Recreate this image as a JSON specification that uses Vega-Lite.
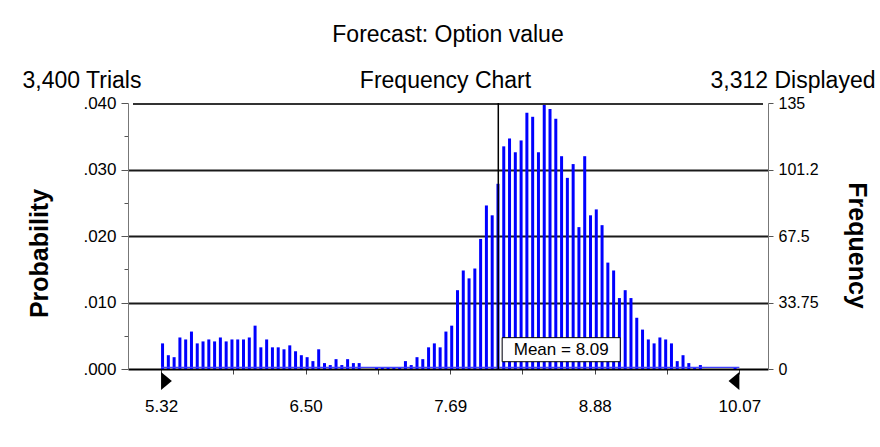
{
  "$schema": "https://vega.github.io/schema/vega-lite/v6.json",
  "width": 640,
  "height": 266,
  "autosize": {"type": "none"},
  "padding": {"left": 128, "top": 103, "right": 112, "bottom": 78},
  "background": "white",
  "config": {
    "font": "Liberation Sans",
    "view": {"stroke": null},
    "axis": {"labelFont": "Liberation Sans", "titleFont": "Liberation Sans", "labelColor": "black", "titleColor": "black"}
  },
  "title": {
    "text": "Forecast: Option value",
    "fontSize": 23,
    "fontWeight": "normal",
    "color": "black",
    "anchor": "middle",
    "frame": "group",
    "offset": 22
  },
  "data": {
    "values": [
      {"bin": 5.32, "count": 13}, {"bin": 5.3675, "count": 7}, {"bin": 5.415, "count": 6}, {"bin": 5.4625, "count": 16},
      {"bin": 5.51, "count": 15}, {"bin": 5.5575, "count": 19}, {"bin": 5.605, "count": 13}, {"bin": 5.6525, "count": 14},
      {"bin": 5.7, "count": 15}, {"bin": 5.7475, "count": 14}, {"bin": 5.795, "count": 16}, {"bin": 5.8425, "count": 14},
      {"bin": 5.89, "count": 15}, {"bin": 5.9375, "count": 15}, {"bin": 5.985, "count": 15}, {"bin": 6.0325, "count": 16},
      {"bin": 6.08, "count": 22}, {"bin": 6.1275, "count": 11}, {"bin": 6.175, "count": 15}, {"bin": 6.2225, "count": 11},
      {"bin": 6.27, "count": 11}, {"bin": 6.3175, "count": 10}, {"bin": 6.365, "count": 12}, {"bin": 6.4125, "count": 9},
      {"bin": 6.46, "count": 7}, {"bin": 6.5075, "count": 6}, {"bin": 6.555, "count": 4}, {"bin": 6.6025, "count": 10},
      {"bin": 6.65, "count": 3}, {"bin": 6.6975, "count": 2}, {"bin": 6.745, "count": 5}, {"bin": 6.7925, "count": 2},
      {"bin": 6.84, "count": 5}, {"bin": 6.8875, "count": 3}, {"bin": 6.935, "count": 3}, {"bin": 6.9825, "count": 0},
      {"bin": 7.03, "count": 0}, {"bin": 7.0775, "count": 1}, {"bin": 7.125, "count": 1}, {"bin": 7.1725, "count": 1},
      {"bin": 7.22, "count": 1}, {"bin": 7.2675, "count": 1}, {"bin": 7.315, "count": 4}, {"bin": 7.3625, "count": 2},
      {"bin": 7.41, "count": 6}, {"bin": 7.4575, "count": 5}, {"bin": 7.505, "count": 11}, {"bin": 7.5525, "count": 13},
      {"bin": 7.6, "count": 11}, {"bin": 7.6475, "count": 19}, {"bin": 7.695, "count": 22}, {"bin": 7.7425, "count": 40},
      {"bin": 7.79, "count": 50}, {"bin": 7.8375, "count": 46}, {"bin": 7.885, "count": 51}, {"bin": 7.9325, "count": 66},
      {"bin": 7.98, "count": 83}, {"bin": 8.0275, "count": 78}, {"bin": 8.075, "count": 94}, {"bin": 8.1225, "count": 113},
      {"bin": 8.17, "count": 117}, {"bin": 8.2175, "count": 110}, {"bin": 8.265, "count": 116}, {"bin": 8.3125, "count": 130},
      {"bin": 8.36, "count": 128}, {"bin": 8.4075, "count": 110}, {"bin": 8.455, "count": 135}, {"bin": 8.5025, "count": 132},
      {"bin": 8.55, "count": 127}, {"bin": 8.5975, "count": 108}, {"bin": 8.645, "count": 97}, {"bin": 8.6925, "count": 104},
      {"bin": 8.74, "count": 72}, {"bin": 8.7875, "count": 108}, {"bin": 8.835, "count": 78}, {"bin": 8.8825, "count": 81},
      {"bin": 8.93, "count": 73}, {"bin": 8.9775, "count": 54}, {"bin": 9.025, "count": 50}, {"bin": 9.0725, "count": 36},
      {"bin": 9.12, "count": 40}, {"bin": 9.1675, "count": 36}, {"bin": 9.215, "count": 26}, {"bin": 9.2625, "count": 20},
      {"bin": 9.31, "count": 15}, {"bin": 9.3575, "count": 13}, {"bin": 9.405, "count": 16}, {"bin": 9.4525, "count": 15},
      {"bin": 9.5, "count": 13}, {"bin": 9.5475, "count": 4}, {"bin": 9.595, "count": 7}, {"bin": 9.6425, "count": 3},
      {"bin": 9.69, "count": 1}, {"bin": 9.7375, "count": 2}, {"bin": 9.785, "count": 0}, {"bin": 9.8325, "count": 0},
      {"bin": 9.88, "count": 0}, {"bin": 9.9275, "count": 0}, {"bin": 9.975, "count": 0}, {"bin": 10.0225, "count": 1}
    ]
  },
  "layer": [
    {
      "mark": {"type": "bar", "width": 3, "xOffset": 1.5, "color": "#0000ff"},
      "encoding": {
        "x": {
          "field": "bin",
          "type": "quantitative",
          "scale": {"domain": [5.0896, 10.2642], "nice": false, "zero": false},
          "axis": {
            "orient": "bottom",
            "values": [5.32, 5.91375, 6.5075, 7.10125, 7.695, 8.28875, 8.8825, 9.47625, 10.07],
            "labelExpr": "indexof([5.32, 6.5075, 7.695, 8.8825, 10.07], datum.value) >= 0 ? format(floor(datum.value * 100 + 0.0001) / 100, '.2f') : ''",
            "labelFontSize": 17,
            "labelPadding": 24,
            "labelFlush": false,
            "labelOverlap": false,
            "tickSize": 5,
            "tickColor": "#444",
            "domainColor": "black",
            "domainWidth": 2,
            "grid": false,
            "title": null
          }
        },
        "y": {
          "field": "count",
          "type": "quantitative",
          "scale": {"domain": [0, 135], "nice": false, "zero": true},
          "axis": {
            "orient": "left",
            "values": [0, 16.875, 33.75, 50.625, 67.5, 84.375, 101.25, 118.125, 135],
            "labelExpr": "indexof([0, 33.75, 67.5, 101.25, 135], datum.value) >= 0 ? replace(format(datum.value / 3400, '.3f'), '0.', '.') : ''",
            "labelFontSize": 17,
            "labelPadding": 5,
            "tickSize": {"condition": {"test": "indexof([0, 33.75, 67.5, 101.25, 135], datum.value) >= 0", "value": 7}, "value": 4},
            "tickColor": "#555",
            "domainColor": "#777",
            "grid": true,
            "gridOpacity": {"condition": {"test": "indexof([33.75, 67.5, 101.25], datum.value) >= 0", "value": 1}, "value": 0},
            "gridColor": "#1a1a1a",
            "gridWidth": 2,
            "title": "Probability",
            "titleFontSize": 25,
            "titleFontWeight": "bold",
            "titleAngle": 270,
            "titleX": -89,
            "titleY": 150,
            "titleAlign": "center",
            "titleBaseline": "middle"
          }
        }
      }
    },
    {
      "data": {"values": [{}]},
      "mark": {"type": "rule", "color": "#333", "strokeWidth": 2, "yOffset": 1},
      "encoding": {
        "x": {"datum": 5.0896, "type": "quantitative", "axis": null},
        "x2": {"datum": 10.2642},
        "y": {"datum": 135, "type": "quantitative", "axis": null}
      }
    },
    {
      "data": {"values": [{}]},
      "mark": {"type": "rule", "color": "#4040ff", "strokeWidth": 1.2, "yOffset": -1.6},
      "encoding": {
        "x": {"datum": 5.32, "type": "quantitative", "axis": null},
        "x2": {"datum": 10.07},
        "y": {"datum": 0, "type": "quantitative", "axis": null}
      }
    },
    {
      "data": {"values": [{}]},
      "mark": {"type": "rule", "color": "black", "strokeWidth": 1.5},
      "encoding": {
        "x": {
          "datum": 8.09,
          "type": "quantitative",
          "axis": {
            "orient": "top", "labels": false, "ticks": false, "domain": false, "grid": false,
            "title": "3,400 Trials", "titleFontSize": 23, "titleFontWeight": "normal",
            "titleAnchor": "start", "titleAlign": "left", "titleX": -106, "titleY": -16, "titleBaseline": "alphabetic"
          }
        }
      }
    },
    {
      "data": {"values": [{}]},
      "mark": {"type": "rect", "fill": "white", "stroke": "black", "strokeWidth": 1},
      "encoding": {
        "x": {"datum": 8.1216, "type": "quantitative", "axis": null},
        "x2": {"datum": 9.0918},
        "y": {
          "datum": 3.7,
          "type": "quantitative",
          "axis": {
            "orient": "right",
            "values": [0, 33.75, 67.5, 101.25, 135],
            "labelExpr": "datum.value == 101.25 ? '101.2' : format(datum.value, '~g')",
            "labelFontSize": 16,
            "labelPadding": 5,
            "tickSize": 5,
            "tickColor": "#555",
            "domainColor": "#777",
            "grid": false,
            "title": "Frequency",
            "titleFontSize": 25,
            "titleFontWeight": "bold",
            "titleAngle": 90,
            "titleX": 88,
            "titleY": 142,
            "titleAlign": "center",
            "titleBaseline": "middle"
          }
        },
        "y2": {"datum": 15.9}
      }
    },
    {
      "data": {"values": [{}]},
      "mark": {"type": "text", "text": "Mean = 8.09", "fontSize": 17, "align": "center", "baseline": "middle", "color": "black"},
      "encoding": {
        "x": {
          "datum": 8.607,
          "type": "quantitative",
          "axis": {
            "orient": "top", "labels": false, "ticks": false, "domain": false, "grid": false,
            "title": "Frequency Chart", "titleFontSize": 23, "titleFontWeight": "normal",
            "titleAnchor": "middle", "titleAlign": "center", "titleX": 317, "titleY": -16, "titleBaseline": "alphabetic"
          }
        },
        "y": {"datum": 9.8, "type": "quantitative", "axis": null}
      }
    },
    {
      "data": {"values": [{}]},
      "mark": {"type": "point", "shape": "M0,-1L1.2,0L0,1Z", "filled": true, "color": "black", "opacity": 1, "size": 324, "yOffset": 12},
      "encoding": {
        "x": {
          "datum": 5.32,
          "type": "quantitative",
          "axis": {
            "orient": "top", "labels": false, "ticks": false, "domain": false, "grid": false,
            "title": "3,312 Displayed", "titleFontSize": 23, "titleFontWeight": "normal",
            "titleAnchor": "end", "titleAlign": "right", "titleX": 747, "titleY": -16, "titleBaseline": "alphabetic"
          }
        },
        "y": {"datum": 0, "type": "quantitative", "axis": null}
      }
    },
    {
      "data": {"values": [{}]},
      "mark": {"type": "point", "shape": "M0,-1L-1.2,0L0,1Z", "filled": true, "color": "black", "opacity": 1, "size": 324, "yOffset": 12},
      "encoding": {
        "x": {"datum": 10.07, "type": "quantitative", "axis": null},
        "y": {"datum": 0, "type": "quantitative", "axis": null}
      }
    }
  ],
  "resolve": {"axis": {"x": "independent", "y": "independent"}}
}
